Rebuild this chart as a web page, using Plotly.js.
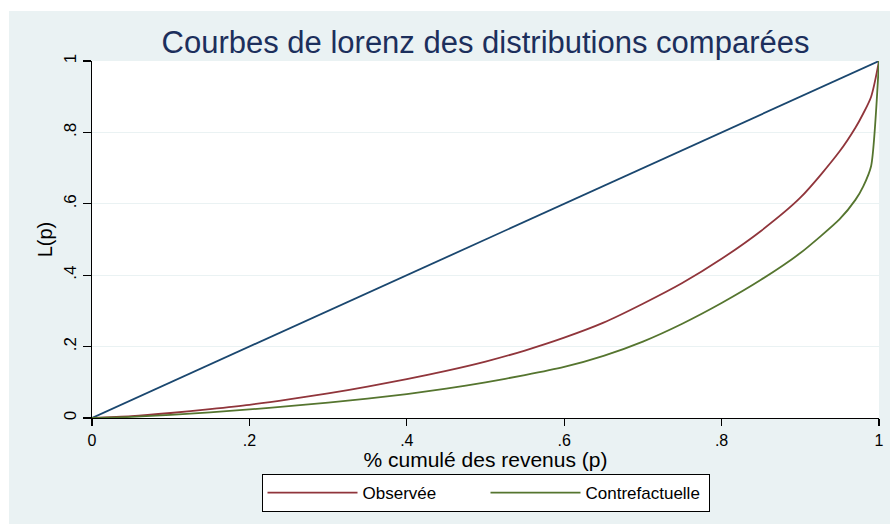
<!DOCTYPE html>
<html>
<head>
<meta charset="utf-8">
<script src="https://cdn.plot.ly/plotly-3.0.1.min.js"></script>
<style>
  html, body { margin: 0; padding: 0; background: #ffffff; width: 890px; height: 524px; overflow: hidden; }
  #chart { position: absolute; left: 9px; top: 11px; width: 881px; height: 513px; }
</style>
</head>
<body>
<div id="chart"></div>
<script>
// Cumulative share of population (p)
const pObs = [0, 0.05, 0.10, 0.15, 0.20, 0.25, 0.30, 0.35, 0.40, 0.45, 0.50, 0.55, 0.60, 0.65, 0.70, 0.75, 0.80, 0.85, 0.90, 0.95, 0.97, 0.98, 0.99, 1];
// Observed Lorenz curve L(p)
const lObs = [0, 0.005, 0.014, 0.025, 0.037, 0.052, 0.069, 0.088, 0.109, 0.132, 0.158, 0.189, 0.225, 0.267, 0.320, 0.378, 0.446, 0.524, 0.617, 0.747, 0.813, 0.853, 0.900, 1];

const pCf = [0, 0.05, 0.10, 0.15, 0.20, 0.25, 0.30, 0.35, 0.40, 0.45, 0.50, 0.55, 0.60, 0.65, 0.70, 0.75, 0.80, 0.85, 0.90, 0.95, 0.97, 0.98, 0.99, 1];
// Counterfactual Lorenz curve L(p)
const lCf = [0, 0.003, 0.009, 0.016, 0.024, 0.033, 0.043, 0.054, 0.067, 0.082, 0.100, 0.120, 0.143, 0.174, 0.214, 0.264, 0.322, 0.387, 0.462, 0.557, 0.611, 0.649, 0.706, 1];

// Line of perfect equality
const pEq = [0, 1];
const lEq = [0, 1];

const names = ["Observée", "Contrefactuelle"];
const xTicks = [0, 0.2, 0.4, 0.6, 0.8, 1];
const xTickText = ["0", ".2", ".4", ".6", ".8", "1"];
const yTicks = [0, 0.2, 0.4, 0.6, 0.8, 1];
const yTickText = ["0", ".2", ".4", ".6", ".8", "1"];

const FONT = "'Liberation Sans', Arial, Helvetica, sans-serif";

const traces = [
  { x: pEq, y: lEq, type: "scatter", mode: "lines", showlegend: false,
    line: { color: "#1a476f", width: 1.8 }, cliponaxis: false, hoverinfo: "skip" },
  { x: pObs, y: lObs, type: "scatter", mode: "lines", name: names[0],
    line: { color: "#90353b", width: 1.8, shape: "spline", smoothing: 0.8 }, cliponaxis: false },
  { x: pCf, y: lCf, type: "scatter", mode: "lines", name: names[1],
    line: { color: "#55752f", width: 1.8, shape: "spline", smoothing: 0.6 }, cliponaxis: false }
];

const layout = {
  width: 881, height: 513,
  margin: { l: 83, r: 11, t: 50, b: 106, pad: 0 },
  paper_bgcolor: "#eaf2f3",
  plot_bgcolor: "#ffffff",
  font: { family: FONT, color: "#000000", size: 16 },
  title: {
    text: "Courbes de lorenz des distributions comparées",
    font: { family: FONT, size: 31, color: "#1c2f5c" },
    x: 0.5, xref: "paper", xanchor: "center",
    y: 1 - 31 / 513, yref: "container", yanchor: "middle"
  },
  xaxis: {
    range: [0, 1], tickvals: xTicks, ticktext: xTickText,
    showgrid: false, zeroline: false,
    showline: true, linecolor: "#000000", linewidth: 1.3,
    ticks: "outside", ticklen: 7, tickwidth: 1.3, tickcolor: "#000000",
    tickfont: { family: FONT, size: 16, color: "#000000" },
    title: { text: "% cumulé des revenus (p)", font: { family: FONT, size: 21, color: "#000000" }, standoff: 0 },
    fixedrange: true
  },
  yaxis: {
    range: [0, 1], tickvals: yTicks, ticktext: yTickText,
    showgrid: true, gridcolor: "#eaf2f3", gridwidth: 1,
    zeroline: false,
    showline: true, linecolor: "#000000", linewidth: 1.3,
    ticks: "outside", ticklen: 8, tickwidth: 1.3, tickcolor: "#000000",
    tickangle: -90,
    tickfont: { family: FONT, size: 17, color: "#000000" },
    title: { text: "L(p)", font: { family: FONT, size: 20, color: "#000000" }, standoff: 3 },
    fixedrange: true
  },
  showlegend: true,
  legend: {
    orientation: "h",
    x: 0.5, xanchor: "center", xref: "paper",
    y: -0.157, yanchor: "top", yref: "paper",
    bgcolor: "#ffffff", bordercolor: "#000000", borderwidth: 1,
    font: { family: FONT, size: 17, color: "#000000" },
    itemwidth: 90,
    entrywidth: 118, entrywidthmode: "pixels"
  }
};

Plotly.newPlot("chart", traces, layout, { displayModeBar: false, staticPlot: true });
</script>
</body>
</html>
